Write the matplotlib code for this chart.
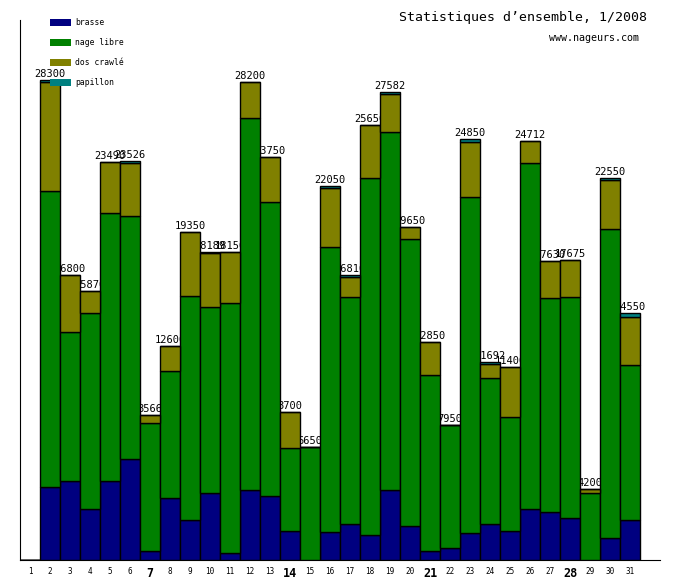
import matplotlib
matplotlib.use("Agg")
import matplotlib.pyplot as plt
import numpy as np

# daily distances per stroke, January 2008
days = np.arange(1, 32)
brasse = [0, 4300, 4650, 3010, 4660, 5950, 530, 3655, 2358, 3950,
          413, 4127, 3770, 1710, 0, 1651, 2123, 1474, 4127, 2005,
          530, 710, 1590, 2123, 1710, 3007, 2830, 2476, 0, 1297, 2358]
nage_libre = [0, 17450, 8790, 11560, 15800, 14330, 7546, 7488, 13207, 10967,
              14740, 21915, 17330, 4894, 6650, 16804, 13387, 21049, 21108, 16921,
              10377, 7240, 19810, 8609, 6721, 20382, 12617, 13030, 3933, 18219, 9139]
dos_crawle = [0, 6430, 3360, 1300, 3030, 3126, 490, 1457, 3785, 3184,
              2997, 2158, 2650, 2096, 0, 3477, 1180, 3127, 2270, 724,
              1943, 0, 3250, 800, 2969, 1323, 2183, 2169, 267, 2889, 2830]
papillon = [0, 120, 0, 0, 0, 120, 0, 0, 0, 88,
            0, 0, 0, 0, 0, 118, 120, 0, 77, 0,
            0, 0, 200, 160, 0, 0, 0, 0, 0, 145, 223]

series = [("brasse", brasse, "#000080"),
          ("nage libre", nage_libre, "#008000"),
          ("dos crawlé", dos_crawle, "#808000"),
          ("papillon", papillon, "#008080")]

mono = "DejaVu Sans Mono"

fig = plt.figure(figsize=(6.8, 5.8), dpi=100)
ax = fig.add_axes([20 / 680, 20 / 580, 640 / 680, 540 / 580])

bottom = np.zeros(len(days))
for name, vals, col in series:
    vals = np.array(vals, dtype=float)
    ax.bar(days, vals, width=1.0, bottom=bottom, color=col, edgecolor="black",
           linewidth=1.0, label=name, zorder=3)
    bottom += vals

# totals written above each bar, drawn under the bars like the original
for d, tot in zip(days, bottom):
    if tot > 0:
        ax.text(d, tot + 60, "%d" % tot, ha="center", va="bottom",
                fontsize=7.5, family=mono, zorder=1)

ax.set_xlim(0.5, 32.5)
ax.set_ylim(0, 31840)
ax.set_xticks(days)
ax.set_xticklabels([str(d) for d in days], family=mono, fontsize=5.5)
for lab in ax.get_xticklabels():
    if int(lab.get_text()) % 7 == 0:
        lab.set_fontsize(8.5)
        lab.set_fontweight("bold")
ax.tick_params(axis="x", length=0, pad=5)
ax.set_yticks([])
ax.spines["top"].set_visible(False)
ax.spines["right"].set_visible(False)

leg = ax.legend(loc="upper left", bbox_to_anchor=(0.047, 1.003), frameon=False,
                prop={"family": mono, "size": 5.8}, handlelength=2.6,
                handleheight=0.9, labelspacing=1.35, handletextpad=0.5,
                borderaxespad=0, borderpad=0)
for h in leg.legend_handles:
    h.set_edgecolor("none")
leg.set_zorder(10)

fig.text(647 / 680, 1 - 18 / 580, "Statistiques d\u2019ensemble, 1/2008",
         ha="right", va="center", family=mono, fontsize=9.5)
fig.text(639 / 680, 1 - 38 / 580, "www.nageurs.com", ha="right", va="center",
         family=mono, fontsize=7.2)

fig.savefig("out.png", dpi=100)
